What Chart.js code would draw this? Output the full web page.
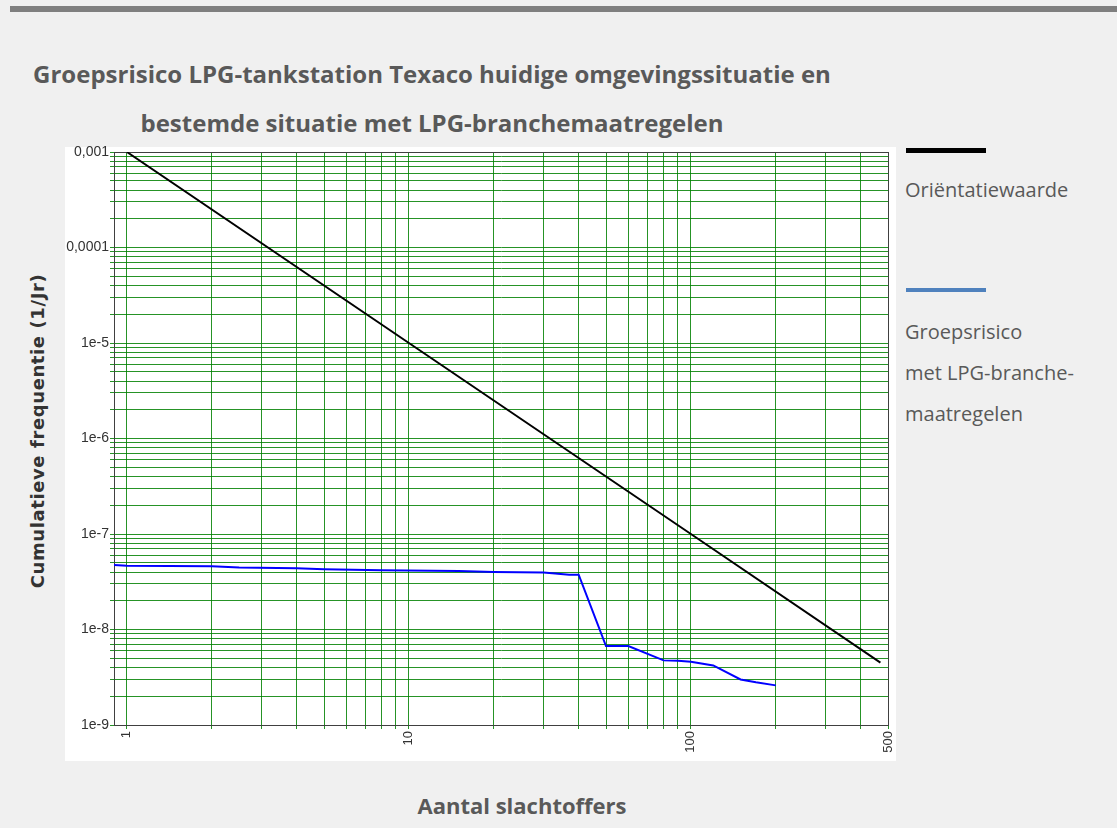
<!DOCTYPE html>
<html>
<head>
<meta charset="utf-8">
<title>Groepsrisico LPG-tankstation Texaco</title>
<script src="https://cdn.jsdelivr.net/npm/chart.js@4/dist/chart.umd.min.js"></script>
<style>
body { margin:0; background:#f0f0f0; width:1117px; height:828px; position:relative; overflow:hidden; font-family:"Open Sans", sans-serif; }
#bar { position:absolute; left:10px; top:6px; width:1107px; height:6px; background:#7f7f7f; }
#panel { position:absolute; left:65px; top:147px; width:831px; height:614px; background:#fff; }
#chart { position:absolute; left:0; top:0; }
.title { position:absolute; left:0; top:49px; width:864px; text-align:center; font-weight:bold; font-size:24px; line-height:49px; color:#595959; }
.xtitle { position:absolute; left:0; top:790px; width:1044px; text-align:center; font-weight:bold; font-size:22px; line-height:30px; color:#595959; }
.ytitle { position:absolute; left:-127px; top:419px; width:330px; height:24px; line-height:24px; text-align:center; transform:rotate(-90deg);
          font-family:"DejaVu Sans", sans-serif; font-weight:bold; font-size:18px; letter-spacing:0.6px; color:#333; }
.legline { position:absolute; left:906px; width:80px; }
.legtext { position:absolute; left:905px; font-size:20px; color:#595959; white-space:nowrap; }
</style>
</head>
<body>
<div id="bar"></div>
<div id="panel"></div>
<div class="title">Groepsrisico LPG-tankstation Texaco huidige omgevingssituatie en<br>bestemde situatie met LPG-branchemaatregelen</div>
<div class="ytitle">Cumulatieve frequentie (1/Jr)</div>
<div class="xtitle">Aantal slachtoffers</div>
<div class="legline" style="top:148px;height:5px;background:#000"></div>
<div class="legtext" style="top:176px;line-height:28px">Oriëntatiewaarde</div>
<div class="legline" style="top:288px;height:4px;background:#4f81bd"></div>
<div class="legtext" style="top:311px;line-height:41px">Groepsrisico<br>met LPG-branche-<br>maatregelen</div>
<canvas id="chart" width="1117" height="828"></canvas>
<script>
// orientatiewaarde (1e-3 / N^2)
const orientN = [1, 10, 100, 470];
const orientF = [1e-3, 1e-5, 1e-7, 4.5e-9];

// groepsrisico met LPG-branchemaatregelen
const grN = [0.9, 1, 2, 2.5, 4, 5, 8, 15, 20, 30, 33, 37, 40, 50, 60, 80, 90, 100, 120, 150, 170, 200];
const grF = [4.75e-8, 4.65e-8, 4.6e-8, 4.45e-8, 4.37e-8, 4.27e-8, 4.17e-8, 4.1e-8, 4.0e-8, 3.95e-8, 3.85e-8, 3.75e-8, 3.75e-8,
             6.7e-9, 6.7e-9, 4.75e-9, 4.7e-9, 4.6e-9, 4.2e-9, 3.0e-9, 2.8e-9, 2.6e-9];

// axes
const xTicks = [1, 2, 3, 4, 5, 6, 7, 8, 9, 10, 20, 30, 40, 50, 60, 70, 80, 90, 100, 200, 300, 400, 500];
const xLabelAt = [1, 10, 100, 500];
const xLabels = ['1', '10', '100', '500'];
const yDecades = [1e-9, 1e-8, 1e-7, 1e-6, 1e-5, 1e-4, 1e-3];
const yLabels = ['1e-9', '1e-8', '1e-7', '1e-6', '1e-5', '0,0001', '0,001'];

const yTicks = [];
for (let i = 0; i < yDecades.length - 1; i++) {
    for (let k = 1; k <= 9; k++) yTicks.push(Number((yDecades[i] * k).toPrecision(6)));
}
yTicks.push(yDecades[yDecades.length - 1]);

function labelFor(v, at, labels) {
    const i = at.findIndex(a => Math.abs(v / a - 1) < 1e-6);
    return i < 0 ? '' : labels[i];
}

const green = 'rgba(0,128,0,0.85)';

const frame = {
    id: 'frame',
    beforeDatasetsDraw(chart) {
        const { ctx, chartArea: a } = chart;
        ctx.save();
        ctx.strokeStyle = '#404040';
        ctx.lineWidth = 1;
        ctx.strokeRect(Math.round(a.left) + 0.5, Math.round(a.top) + 0.5, Math.round(a.right - a.left), Math.round(a.bottom - a.top));
        ctx.restore();
    }
};

new Chart(document.getElementById('chart'), {
    type: 'scatter',
    data: {
        datasets: [{
            label: 'Oriëntatiewaarde',
            data: orientN.map((n, i) => ({ x: n, y: orientF[i] })),
            borderColor: '#000',
            borderWidth: 2,
            showLine: true,
            pointRadius: 0
        }, {
            label: 'Groepsrisico met LPG-branchemaatregelen',
            data: grN.map((n, i) => ({ x: n, y: grF[i] })),
            borderColor: '#0000ff',
            borderWidth: 2,
            showLine: true,
            pointRadius: 0
        }]
    },
    options: {
        responsive: false,
        animation: false,
        layout: { padding: { left: 65, top: 152, right: 229, bottom: 67 } },
        plugins: { legend: { display: false }, tooltip: { enabled: false } },
        scales: {
            x: {
                type: 'logarithmic',
                min: 0.9,
                max: 500,
                afterBuildTicks: s => { s.ticks = xTicks.map(v => ({ value: v })); },
                afterFit: s => { s.height = 36; },
                grid: { color: green, tickColor: green, tickLength: 4 },
                border: { color: '#404040' },
                ticks: {
                    autoSkip: false, minRotation: 90, maxRotation: 90, padding: 2,
                    color: '#333', font: { family: 'Liberation Sans', size: 13 },
                    callback: v => labelFor(v, xLabelAt, xLabels)
                }
            },
            y: {
                type: 'logarithmic',
                min: 1e-9,
                max: 1e-3,
                afterBuildTicks: s => { s.ticks = yTicks.map(v => ({ value: v })); },
                afterFit: s => { s.width = 49; },
                grid: { color: green, tickColor: green, tickLength: 4 },
                border: { color: '#404040' },
                ticks: {
                    autoSkip: false, padding: 1,
                    color: '#333', font: { family: 'Liberation Sans', size: 14 },
                    callback: v => labelFor(v, yDecades, yLabels)
                }
            }
        }
    },
    plugins: [frame]
});
</script>
</body>
</html>
